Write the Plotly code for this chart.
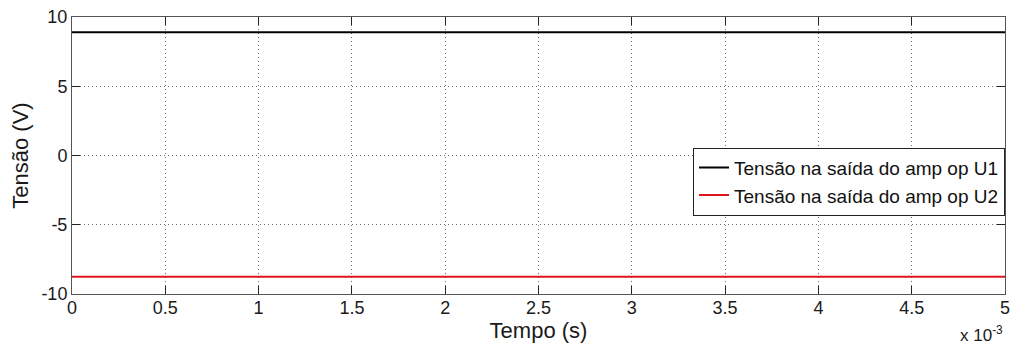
import plotly.graph_objects as go

# Output voltages of the two op-amps over a 5 ms window
tempo = [0.0, 0.005]
u1 = [8.9, 8.9]
u2 = [-8.75, -8.75]
nomes = ["Tensão na saída do amp op U1", "Tensão na saída do amp op U2"]
cores = ["#000000", "#e0141e"]

x_ticks = [0, 0.0005, 0.001, 0.0015, 0.002, 0.0025, 0.003, 0.0035, 0.004, 0.0045, 0.005]
x_labels = ["0", "0.5", "1", "1.5", "2", "2.5", "3", "3.5", "4", "4.5", "5"]
y_ticks = [-10, -5, 0, 5, 10]
y_labels = ["-10", "-5", "0", "5", "10"]
x_range = [0, 0.005]
y_range = [-10, 10]

font = "Liberation Sans, Arial, sans-serif"
ink = "#1a1a1a"

fig = go.Figure()
for y, nome, cor in zip([u1, u2], nomes, cores):
    fig.add_trace(go.Scatter(x=tempo, y=y, mode="lines", name=nome,
                             line=dict(color=cor, width=2)))

# empty trace that carries the overlay axes used for the inside tick marks
fig.add_trace(go.Scatter(x=[], y=[], xaxis="x2", yaxis="y2", showlegend=False,
                         hoverinfo="skip"))

axis_common = dict(
    showline=True, linecolor="#555555", linewidth=1, mirror=True,
    ticks="", showgrid=True, gridcolor="#707070", griddash="1px,3px", gridwidth=1,
    zeroline=False, tickfont=dict(family=font, size=18, color=ink),
)
tick_overlay = dict(
    showline=False, showgrid=False, zeroline=False, showticklabels=False,
    ticks="inside", ticklen=8, tickcolor="#222222", tickwidth=1, mirror="ticks",
)

fig.update_layout(
    xaxis=dict(range=x_range, tickvals=x_ticks, ticktext=x_labels,
               ticklabelstandoff=-3,
               title=dict(text="Tempo (s)", font=dict(family=font, size=22, color=ink), standoff=0),
               **axis_common),
    yaxis=dict(range=y_range, tickvals=y_ticks, ticktext=y_labels,
               title=dict(text="Tensão (V)", font=dict(family=font, size=22, color=ink), standoff=6),
               **axis_common),
    xaxis2=dict(range=x_range, tickvals=x_ticks, overlaying="x", anchor="y2", **tick_overlay),
    yaxis2=dict(range=y_range, tickvals=y_ticks, overlaying="y", anchor="x2", **tick_overlay),
)

fig.add_annotation(text="x 10<sup>-3</sup>", xref="paper", yref="paper",
                   x=1.0, y=-0.19, xanchor="right", yanchor="bottom", showarrow=False,
                   font=dict(family=font, size=17, color=ink))

fig.update_layout(
    width=1017, height=347,
    margin=dict(l=72, r=7, t=16, b=53),
    paper_bgcolor="white", plot_bgcolor="white",
    showlegend=True,
    legend=dict(x=1.0, y=0.406, xanchor="right", yanchor="middle",
                bgcolor="white", bordercolor="#222222", borderwidth=1,
                font=dict(family=font, size=19, color="#111111"),
                tracegroupgap=0, itemwidth=30),
)

fig.write_html("out.html")
